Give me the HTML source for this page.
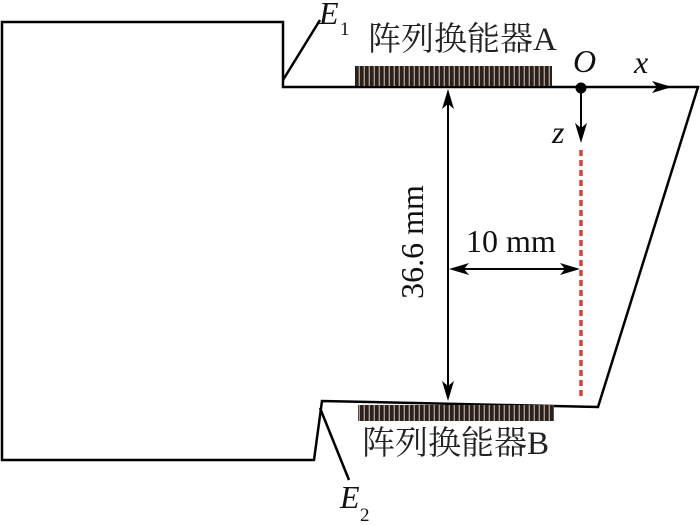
<!DOCTYPE html>
<html><head><meta charset="utf-8"><style>
body{margin:0;background:#fff;width:700px;height:526px;overflow:hidden}
svg{display:block}
.t{font-family:"Liberation Serif","Noto Serif CJK SC",serif;fill:#111;font-size:32px}
.c{font-family:"Liberation Serif","Noto Serif CJK SC",serif;fill:#222;font-size:33px}
.i{font-style:italic}
.s{font-size:19px}
</style></head><body>
<svg width="700" height="526" viewBox="0 0 700 526">
<defs>
<pattern id="bars" width="5" height="30" patternUnits="userSpaceOnUse">
<rect width="5" height="30" fill="#a89a90"/>
<rect width="3.6" height="30" fill="#2a211c"/>
</pattern>
</defs>
<g stroke="#000" stroke-width="2.5" fill="none">
<path d="M2,22 L283,22 L283,87 L698,87 L598,407 L322,401 L314,460 L2,460 Z"/>
<line x1="283" y1="80" x2="320" y2="20"/>
<line x1="320" y1="408" x2="349" y2="480"/>
</g>
<rect x="355" y="66" width="197" height="20" fill="url(#bars)"/>
<rect x="358" y="405" width="196" height="16" fill="url(#bars)"/>
<g stroke="#000" stroke-width="2">
<line x1="581" y1="87" x2="660" y2="87"/>
<line x1="581" y1="88" x2="581" y2="130"/>
<line x1="448" y1="100" x2="448" y2="390"/>
<line x1="460" y1="269" x2="570" y2="269"/>
</g>
<g fill="#000">
<path d="M672,87 L652,81 L657,87 L652,93 Z"/>
<path d="M581,143 L575,123 L581,128 L587,123 Z"/>
<path d="M448,89 L442,109 L448,104 L454,109 Z"/>
<path d="M448,401 L442,381 L448,386 L454,381 Z"/>
<path d="M449,269 L469,263 L464,269 L469,275 Z"/>
<path d="M580,269 L560,263 L565,269 L560,275 Z"/>
</g>
<circle cx="581" cy="88" r="5.5" fill="#000"/>
<line x1="581" y1="150" x2="581" y2="400" stroke="#d9403a" stroke-width="3.5" stroke-dasharray="6,4"/>
<text x="466" y="252" class="t">10 mm</text>
<text transform="translate(423,242) rotate(-90)" text-anchor="middle" class="t">36.6 mm</text>
<text x="368" y="50" class="c">阵列换能器A</text>
<text x="362" y="454" class="c">阵列换能器B</text>
<text x="319" y="24" class="t i">E</text><text x="340" y="35" class="t s">1</text>
<text x="340" y="508" class="t i">E</text><text x="360" y="521" class="t s">2</text>
<text x="573" y="72" class="t i">O</text>
<text x="634" y="73" class="t i">x</text>
<text x="552" y="143" class="t i">z</text>
</svg>
</body></html>
